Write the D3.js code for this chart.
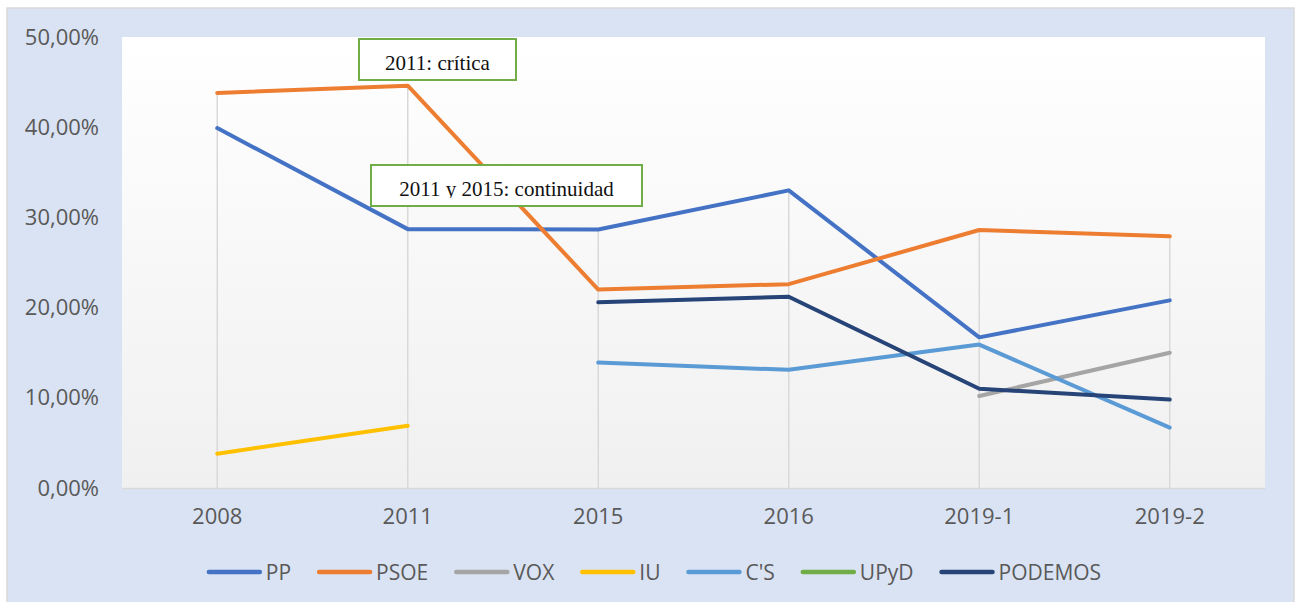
<!DOCTYPE html>
<html>
<head>
<meta charset="utf-8">
<script src="https://cdn.jsdelivr.net/npm/d3@7"></script>
<style>
  body { margin: 0; background: #fff; }
  svg { display: block; font-family: 'Open Sans', sans-serif; }
</style>
</head>
<body>
<svg id="chart"></svg>
<script>
// data (percent)
const years = ['2008', '2011', '2015', '2016', '2019-1', '2019-2'];
const pp      = [39.9, 28.7, 28.65, 33.0, 16.7, 20.8];
const psoe    = [43.8, 44.6, 22.0, 22.6, 28.6, 27.9];
const vox     = [null, null, null, null, 10.2, 15.0];
const iu      = [3.8, 6.9, null, null, null, null];
const cs      = [null, null, 13.9, 13.1, 15.9, 6.7];
const upyd    = [null, null, null, null, null, null];
const podemos = [null, null, 20.6, 21.2, 11.0, 9.8];

const seriesNames = ['PP', 'PSOE', 'VOX', 'IU', "C'S", 'UPyD', 'PODEMOS'];
const seriesValues = [pp, psoe, vox, iu, cs, upyd, podemos];
const seriesColors = ['#4472c4', '#ed7d31', '#a5a5a5', '#ffc000', '#5b9bd5', '#70ad47', '#264478'];

const yTicks = [0, 10, 20, 30, 40, 50];
const notes = ['2011: crítica', '2011 y 2015: continuidad'];

const W = 1301, H = 602;
const plot = { left: 122, top: 37, right: 1265, bottom: 488 };

const svg = d3.select('#chart').attr('width', W).attr('height', H);

// outer chart panel
svg.append('rect')
    .attr('x', 7).attr('y', 8)
    .attr('width', 1287).attr('height', 620)
    .attr('fill', '#dae3f3')
    .attr('stroke', '#d9d9d9').attr('stroke-width', 1.5);

// plot area with soft gradient
const defs = svg.append('defs');
const grad = defs.append('linearGradient')
    .attr('id', 'plot-bg')
    .attr('x1', '0%').attr('y1', '0%').attr('x2', '0%').attr('y2', '100%');
grad.append('stop').attr('offset', '0%').attr('stop-color', '#ffffff');
grad.append('stop').attr('offset', '100%').attr('stop-color', '#f0f0f0');

svg.append('rect')
    .attr('x', plot.left).attr('y', plot.top)
    .attr('width', plot.right - plot.left).attr('height', plot.bottom - plot.top)
    .attr('fill', 'url(#plot-bg)');

const x = d3.scaleBand().domain(years).range([plot.left, plot.right]).padding(0);
const cx = d => x(d) + x.bandwidth() / 2;
const y = d3.scaleLinear().domain([0, 50]).range([plot.bottom, plot.top]);

// drop lines from the highest point of each category
years.forEach((yr, i) => {
    const vals = seriesValues.map(s => s[i]).filter(v => v != null);
    if (!vals.length) return;
    svg.append('line')
        .attr('x1', cx(yr)).attr('x2', cx(yr))
        .attr('y1', y(d3.max(vals))).attr('y2', plot.bottom)
        .attr('stroke', '#d9d9d9').attr('stroke-width', 1.5);
});

// category axis
const xAxis = svg.append('g')
    .attr('transform', `translate(0,${plot.bottom})`)
    .call(d3.axisBottom(x).tickSize(0).tickPadding(20));
xAxis.select('.domain').attr('stroke', '#d9d9d9').attr('stroke-width', 1.5);
xAxis.selectAll('text')
    .attr('font-family', "'Open Sans', sans-serif")
    .attr('font-size', 22).attr('fill', '#595959');

// value axis (labels only)
const fmt = v => d3.format('.2f')(v).replace('.', ',') + '%';
const yAxis = svg.append('g')
    .attr('transform', `translate(${plot.left},0)`)
    .call(d3.axisLeft(y).tickValues(yTicks).tickFormat(fmt).tickSize(0).tickPadding(23));
yAxis.select('.domain').remove();
yAxis.selectAll('text')
    .attr('font-family', "'Open Sans', sans-serif")
    .attr('font-size', 22).attr('fill', '#595959');

// series lines
const line = d3.line()
    .defined(d => d.v != null)
    .x(d => cx(d.year))
    .y(d => y(d.v));

seriesNames.forEach((name, k) => {
    const pts = years.map((yr, i) => ({ year: yr, v: seriesValues[k][i] }));
    svg.append('path')
        .datum(pts)
        .attr('d', line)
        .attr('fill', 'none')
        .attr('stroke', seriesColors[k])
        .attr('stroke-width', 4)
        .attr('stroke-linejoin', 'round')
        .attr('stroke-linecap', 'round');
});

// annotation boxes
const noteBoxes = [
    { x: 359, y: 39, w: 157, h: 41, base: 70 },
    { x: 371, y: 165, w: 271, h: 41, base: 196 }
];
notes.forEach((t, i) => {
    const b = noteBoxes[i];
    const g = svg.append('g');
    g.append('rect')
        .attr('x', b.x).attr('y', b.y).attr('width', b.w).attr('height', b.h)
        .attr('fill', '#fff').attr('stroke', '#70ad47').attr('stroke-width', 2);
    defs.append('clipPath').attr('id', `note-clip-${i}`)
        .append('rect')
        .attr('x', b.x).attr('y', b.y).attr('width', b.w).attr('height', b.base + 2 - b.y);
    g.append('text')
        .attr('clip-path', `url(#note-clip-${i})`)
        .attr('x', b.x + b.w / 2).attr('y', b.base)
        .attr('text-anchor', 'middle')
        .attr('font-family', "'Liberation Serif', 'Times New Roman', serif")
        .attr('font-size', 21).attr('fill', '#111')
        .text(t);
});

// legend
const legend = svg.append('g').attr('transform', 'translate(0,572)');
const items = [];
seriesNames.forEach((name, k) => {
    const it = legend.append('g');
    it.append('line')
        .attr('x1', 2).attr('x2', 53)
        .attr('stroke', seriesColors[k]).attr('stroke-width', 4.5)
        .attr('stroke-linecap', 'round');
    const txt = it.append('text')
        .attr('x', 59).attr('dy', '0.36em')
        .attr('font-size', 21).attr('fill', '#595959')
        .text(name);
    items.push({ it, w: 59 + txt.node().getComputedTextLength() });
});
const gap = 26;
const total = d3.sum(items, d => d.w) + gap * (items.length - 1);
let lx = 654 - total / 2;
items.forEach(d => {
    d.it.attr('transform', `translate(${lx},0)`);
    lx += d.w + gap;
});
</script>
</body>
</html>
